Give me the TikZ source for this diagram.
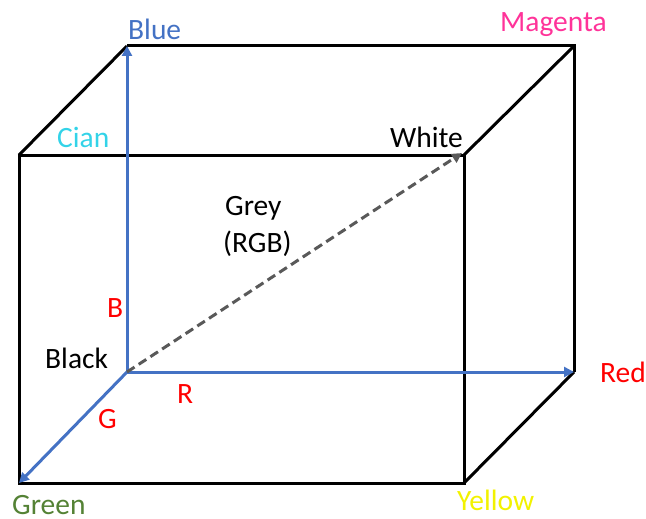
\documentclass[tikz,border=0pt]{standalone}
\usepackage{fontspec}
\setmainfont{Carlito}
\usetikzlibrary{arrows.meta}
\definecolor{axisblue}{HTML}{4472C4}
\definecolor{cianc}{HTML}{33D3E8}
\definecolor{magc}{HTML}{FF3399}
\definecolor{greenc}{HTML}{548235}
\definecolor{yellowc}{HTML}{F2F200}
\definecolor{redc}{HTML}{FF0000}
\definecolor{greyc}{HTML}{595959}
\begin{document}
\begin{tikzpicture}[x=1pt,y=-1pt,
  edge/.style={draw=black,line width=3pt,line join=miter},
  axis/.style={draw=axisblue,line width=3pt,-{Triangle[length=10pt,width=10pt]}},
  greyarrow/.style={draw=greyc,line width=3pt,dash pattern=on 9pt off 5pt,-{Triangle[length=10pt,width=10pt]}},
  lbl/.style={inner sep=0pt,anchor=base west,font=\fontsize{29.5}{35}\selectfont}]
\useasboundingbox (0,0) rectangle (646,519);
% corners
\coordinate (black) at (127,372);
\coordinate (blue) at (127,46);
\coordinate (magenta) at (574,46);
\coordinate (red) at (574,372);
\coordinate (cian) at (19,155);
\coordinate (white) at (464,155);
\coordinate (yellow) at (464,483);
\coordinate (green) at (19,483);
% cube edges
\draw[edge] (cian) -- (white) -- (yellow) -- (green) -- cycle;
\draw[edge] (blue) -- (magenta) -- (red);
\draw[edge] (cian) -- (blue);
\draw[edge] (white) -- (magenta);
\draw[edge] (yellow) -- (red);
% axes
\draw[axis] (black) -- (blue);
\draw[axis] (black) -- (red);
\draw[axis] (black) -- (green);
\draw[greyarrow] (black) -- ([xshift=-2pt,yshift=2pt]white);
% labels
\node[lbl,text=axisblue] (tblue) at (128,40) {Blue};
\node[lbl,text=cianc] (tcian) at (57,147) {Cian};
\node[lbl,text=magc] (tmag) at (500,32) {Magenta};
\node[lbl,anchor=base east] (twhite) at (463,147) {White};
\node[lbl] (tgrey) at (225,215) {Grey};
\node[lbl] (trgb) at (223,252) {(RGB)};
\node[lbl,text=redc] (tb) at (107,317) {B};
\node[lbl] (tblack) at (45,368) {Black};
\node[lbl,text=redc] (tr) at (177,403) {R};
\node[lbl,text=redc] (tg) at (98,428) {G};
\node[lbl,text=greenc] (tgreen) at (12,514) {Green};
\node[lbl,text=yellowc] (tyellow) at (457,510) {Yellow};
\node[lbl,text=redc] (tred) at (600,382) {Red};
\end{tikzpicture}
\end{document}
